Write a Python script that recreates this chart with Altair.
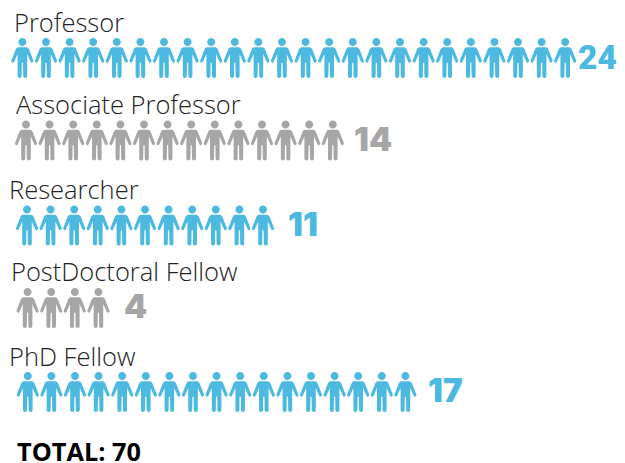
import altair as alt
import pandas as pd

categories = ["Professor", "Associate Professor", "Researcher", "PostDoctoral Fellow", "PhD Fellow"]
counts = [24, 14, 11, 4, 17]
total_label = "TOTAL: 70"

# layout (page pixels)
W, H = 609, 455
M = 8
STEP = 23.6
row_x0 = [22.4, 26.0, 27.0, 27.6, 27.8]
row_yc = [58, 140.5, 225.5, 308, 392]
label_x = [14, 16, 9, 11, 9]
label_y = [32, 114, 199, 281, 366]
num_x = [578, 354, 288, 124, 428]
num_y = [69, 151, 236, 318, 402]
BLUE, GRAY = "#4CB9E0", "#A6A6A6"
row_color = [BLUE, GRAY, BLUE, GRAY, BLUE]

PERSON = (
    "M-0.2,-0.54 L0.2,-0.54 Q0.29,-0.53 0.33,-0.44 L0.55,0.12 Q0.57,0.2 0.5,0.23 Q0.44,0.25 0.41,0.19 "
    "L0.24,-0.2 L0.24,0.9 Q0.24,1 0.14,1 Q0.04,1 0.04,0.9 L0.03,0.24 L-0.03,0.24 L-0.04,0.9 Q-0.04,1 -0.14,1 "
    "Q-0.24,1 -0.24,0.9 L-0.24,-0.2 L-0.41,0.19 Q-0.44,0.25 -0.5,0.23 Q-0.57,0.2 -0.55,0.12 L-0.33,-0.44 "
    "Q-0.29,-0.53 -0.2,-0.54 Z "
    "M0,-1 A0.2,0.2 0 1 1 0,-0.6 A0.2,0.2 0 1 1 0,-1 Z"
)

icons = pd.DataFrame(
    [
        {"x": row_x0[r] - M + i * STEP, "y": row_yc[r] - M, "c": row_color[r], "cat": categories[r]}
        for r, n in enumerate(counts)
        for i in range(n)
    ]
)
labels = pd.DataFrame({"x": [v - M for v in label_x], "y": [v - M for v in label_y], "t": categories})
nums = pd.DataFrame(
    {"x": [v - M for v in num_x], "y": [v - M for v in num_y], "t": [str(c) for c in counts], "c": row_color}
)
total = pd.DataFrame({"x": [17 - M], "y": [461 - M], "t": [total_label]})

X = alt.X("x:Q", scale=alt.Scale(domain=[0, W], range=[0, W]), axis=None)
Y = alt.Y("y:Q", scale=alt.Scale(domain=[0, H], range=[0, H]), axis=None)

icon_layer = alt.Chart(icons).mark_point(shape=PERSON, filled=True, size=1600, opacity=1, strokeWidth=0).encode(
    x=X, y=Y, color=alt.Color("c:N", scale=None)
)
label_layer = alt.Chart(labels).mark_text(
    font="Open Sans", fontSize=25.5, fontWeight=300, align="left", baseline="alphabetic", color="#222222"
).encode(x=X, y=Y, text="t:N")
num_24 = alt.Chart(nums).transform_filter("datum.t == '24'").mark_text(
    font="Roboto", fontSize=33.5, fontWeight=900, align="left", baseline="alphabetic"
).encode(x=X, y=Y, text="t:N", color=alt.Color("c:N", scale=None))
num_rest = alt.Chart(nums).transform_filter("datum.t != '24'").mark_text(
    font="Inter", fontSize=33, fontWeight=900, align="left", baseline="alphabetic"
).encode(x=X, y=Y, text="t:N", color=alt.Color("c:N", scale=None))
total_layer = alt.Chart(total).mark_text(
    font="Open Sans", fontSize=25.3, fontWeight=700, align="left", baseline="alphabetic", color="#000000"
).encode(x=X, y=Y, text="t:N")

chart = (
    alt.layer(icon_layer, label_layer, num_24, num_rest, total_layer)
    .properties(width=W, height=H, padding=0, autosize=alt.AutoSizeParams(type="none"), background="#FFFFFF")
    .configure_view(stroke=None)
)
chart.save("out.html", embed_options={"renderer": "svg", "actions": False})
